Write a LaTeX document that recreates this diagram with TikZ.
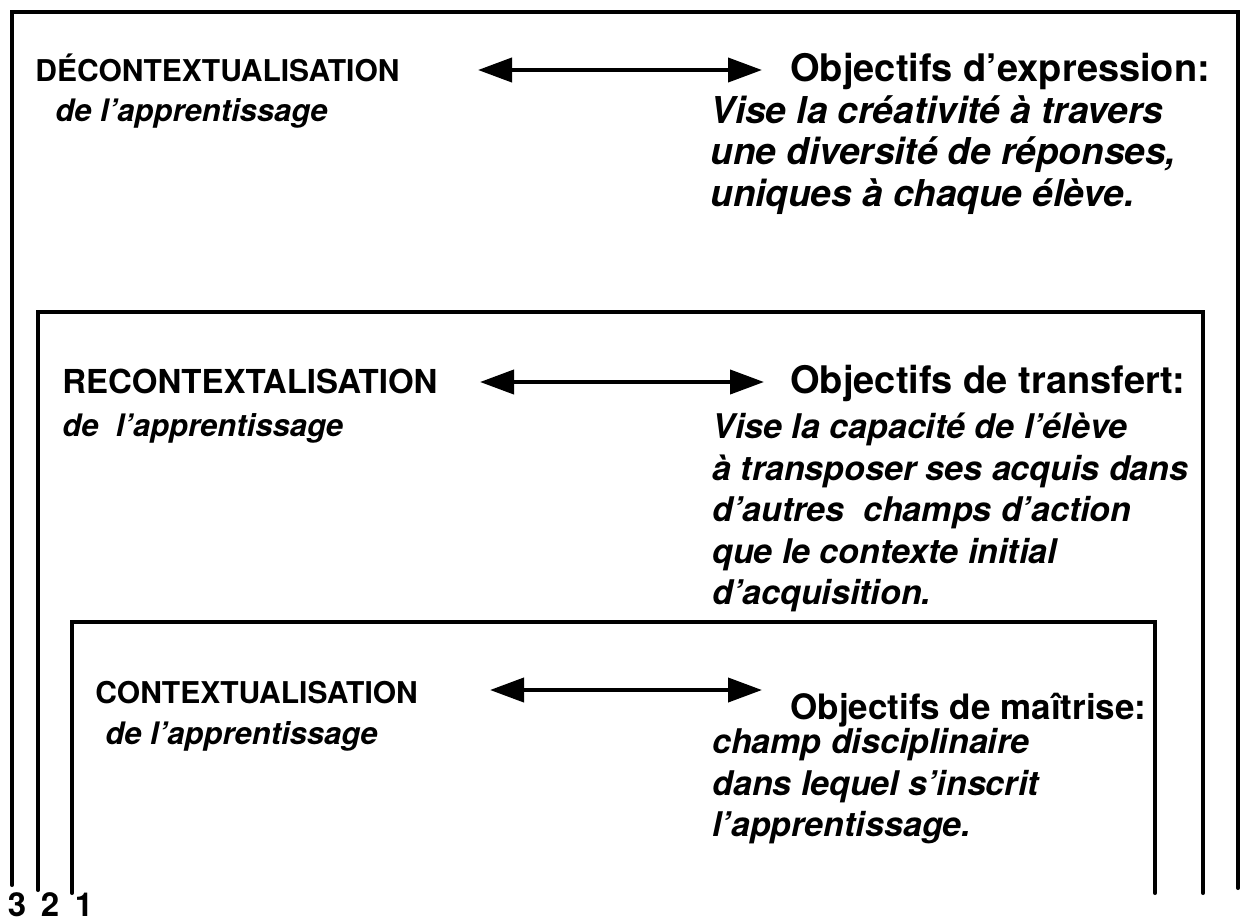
\documentclass[tikz,border=0pt]{standalone}
\usepackage{fontspec}
\setmainfont{TeX Gyre Heros}
\usetikzlibrary{arrows.meta, positioning}

\begin{document}
\begin{tikzpicture}[
    x=0.5pt, y=-0.5pt,
    frame/.style = {line width=2pt, line cap=round, line join=miter},
    level/.style = {font=\fontsize{15}{18}\selectfont\bfseries, anchor=base west, inner sep=0pt},
    sub/.style = {font=\fontsize{15.5}{19}\selectfont\bfseries\itshape, anchor=base west, inner sep=0pt},
    goal/.style = {font=\fontsize{19}{22}\selectfont\bfseries, anchor=base west, inner sep=0pt},
    note/.style = {font=\fontsize{17}{20.75}\selectfont\bfseries\itshape,
        anchor=north west, align=left, inner sep=0pt},
    dblarrow/.style = {{Triangle[length=17pt,width=12pt]}-{Triangle[length=17pt,width=12pt]},
        line width=2pt},
    num/.style = {font=\fontsize{16.5}{20}\selectfont\bfseries, anchor=base, inner sep=0pt}]
    \useasboundingbox (0,0) rectangle (1247,923);
    % \draw [help lines] (0,0) grid [step=100] (1247,923);

    % nested frames, open at the bottom
    \draw [frame] (12,885) -- (12,12) -- (1238,12) -- (1238,888);
    \draw [frame] (38,890) -- (38,312) -- (1203,312) -- (1203,893);
    \draw [frame] (72,893) -- (72,622) -- (1155,622) -- (1155,893);

    % level 3
    \node (decon) [level] at (35,81) {DÉCONTEXTUALISATION};
    \node (deconsub) [sub] at (55,121) {de l’apprentissage};
    \node (objexp) [goal] at (790,81) {Objectifs d’expression:};
    \node (expnote) [note, font=\fontsize{18.5}{20.75}\selectfont\bfseries\itshape]
        at (710,95) {Vise la créativité à travers\\
        une diversité de réponses,\\
        uniques à chaque élève.};
    \coordinate (al3) at (478,70);
    \coordinate (ar3) at (762,70);
    \draw [dblarrow] (al3) -- (ar3);

    % level 2
    \node (recon) [level, font=\fontsize{16.5}{19}\selectfont\bfseries]
        at (62,393) {RECONTEXTALISATION};
    \node (reconsub) [sub] at (62,436) {de \ l’apprentissage};
    \node (objtra) [goal] at (790,393) {Objectifs de transfert:};
    \node (tranote) [note] at (712,413) {Vise la capacité de l’élève\\
        à transposer ses acquis dans\\
        d’autres \ champs d’action\\
        que le contexte initial\\
        d’acquisition.};
    \coordinate (al2) at (480,382);
    \coordinate (ar2) at (764,382);
    \draw [dblarrow] (al2) -- (ar2);

    % level 1
    \node (ctx) [level] at (95,703) {CONTEXTUALISATION};
    \node (ctxsub) [sub] at (105,744) {de l’apprentissage};
    \node (objmai) [goal, font=\fontsize{17.5}{21}\selectfont\bfseries]
        at (790,719) {Objectifs de maîtrise:};
    \node (mainote) [note] at (712,728) {champ disciplinaire\\
        dans lequel s’inscrit\\
        l’apprentissage.};
    \coordinate (al1) at (490,690);
    \coordinate (ar1) at (762,690);
    \draw [dblarrow] (al1) -- (ar1);

    % frame numbers
    \node (n3) [num] at (17,916) {3};
    \node (n2) [num] at (50,916) {2};
    \node (n1) [num] at (84,916) {1};
\end{tikzpicture}
\end{document}
